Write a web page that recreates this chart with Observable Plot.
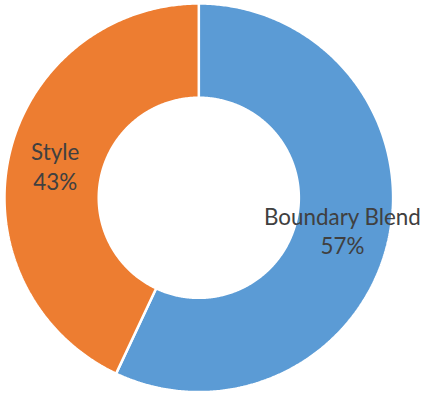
<!DOCTYPE html>
<html>
<head>
<meta charset="utf-8">
<script src="https://cdn.jsdelivr.net/npm/d3@7"></script>
<script src="https://cdn.jsdelivr.net/npm/@observablehq/plot@0.6"></script>
<style>
  html, body { margin: 0; padding: 0; background: #fff; }
</style>
</head>
<body>
<div id="chart"></div>
<script>
const categories = ["Boundary Blend", "Style"];
const values = [57, 43];
const colors = ["#5B9BD5", "#ED7D31"];

const W = 421, H = 395;
const cx = 198.3, cy = 197.3, R = 194.3, innerRatio = 0.515;

const total = d3.sum(values);
const arcs = d3.pie().sort(null).value(d => d)(values);

// polygon outline of each donut slice in unit (data) coordinates
const pts = [];
arcs.forEach((a, i) => {
  const n = Math.max(2, Math.ceil((a.endAngle - a.startAngle) / (Math.PI / 360)));
  for (let k = 0; k <= n; k++) {
    const t = a.startAngle + (a.endAngle - a.startAngle) * k / n;
    pts.push({cat: categories[i], x: Math.sin(t), y: Math.cos(t)});
  }
  for (let k = n; k >= 0; k--) {
    const t = a.startAngle + (a.endAngle - a.startAngle) * k / n;
    pts.push({cat: categories[i], x: innerRatio * Math.sin(t), y: innerRatio * Math.cos(t)});
  }
});

const labels = arcs.map((a, i) => {
  const m = (a.startAngle + a.endAngle) / 2;
  const rr = (1 + innerRatio) / 2;
  return {
    x: rr * Math.sin(m),
    y: rr * Math.cos(m),
    text: categories[i] + "\n" + Math.round(values[i] / total * 100) + "%"
  };
});

const chart = Plot.plot({
  width: W,
  height: H,
  margin: 0,
  x: {domain: [-1, 1], range: [cx - R, cx + R], axis: null},
  y: {domain: [-1, 1], range: [cy + R, cy - R], axis: null},
  color: {domain: categories, range: colors},
  style: {background: "#fff"},
  marks: [
    Plot.line(pts, {x: "x", y: "y", z: "cat", fill: "cat", stroke: "white", strokeWidth: 2.5, strokeLinejoin: "miter", curve: "linear-closed"}),
    Plot.text(labels, {x: "x", y: "y", text: "text", fill: "#404040", fontSize: 22.4, lineHeight: 1.32, fontFamily: "Lato", textAnchor: "middle"})
  ]
});
document.getElementById("chart").appendChild(chart);
</script>
</body>
</html>
